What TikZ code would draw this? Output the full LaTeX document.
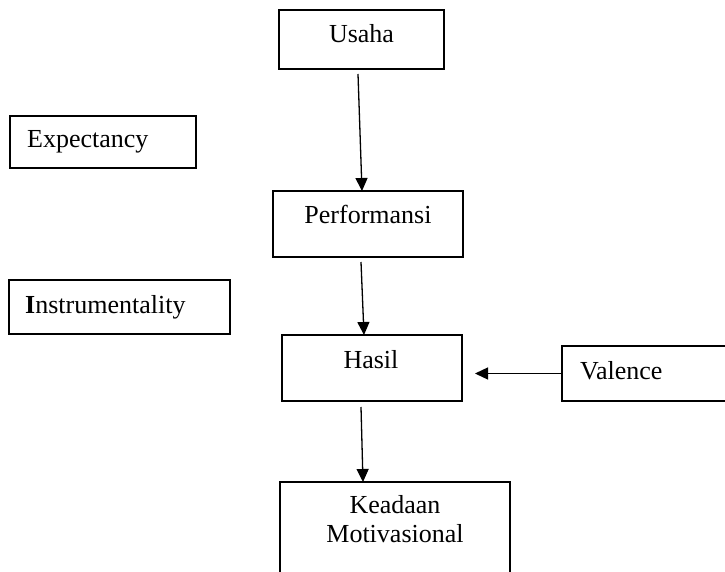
\documentclass[tikz,border=0pt]{standalone}
\usepackage{fontspec}
\setmainfont{Liberation Serif}
\usetikzlibrary{arrows.meta}

\tikzset{
  box/.style={draw=black, line width=1.4pt, rectangle, inner sep=0pt, outer sep=0pt},
  label/.style={inner sep=0pt, anchor=base, font=\fontsize{26}{30}\selectfont},
  lefttext/.style={label, anchor=base west},
  arr/.style={line width=1.3pt, -{Triangle[length=13pt,width=12pt]}}
}

\begin{document}
\begin{tikzpicture}[x=1pt,y=-1pt]
  \useasboundingbox (0,0) rectangle (725,572);
  \clip (0,0) rectangle (725,572);

  % boxes
  \node[box, minimum width=165pt, minimum height=59pt] (usaha) at (361.5,39.5) {};
  \node[box, minimum width=186pt, minimum height=52pt] (expect) at (103,142) {};
  \node[box, minimum width=190pt, minimum height=66pt] (perf) at (368,224) {};
  \node[box, minimum width=221pt, minimum height=54pt] (instr) at (119.5,307) {};
  \node[box, minimum width=180pt, minimum height=66pt] (hasil) at (372,368) {};
  \node[box, minimum width=200pt, minimum height=55pt] (valence) at (662,373.5) {};
  \node[box, minimum width=230pt, minimum height=120pt] (keadaan) at (395,542) {};

  % texts
  \node[label] (tusaha) at (361.5,43) {Usaha};
  \node[lefttext] (texpect) at (27,148) {Expectancy};
  \node[label] (tperf) at (368,223) {Performansi};
  \node[lefttext] (tinstr) at (25,313) {\textbf{I}nstrumentality};
  \node[label] (thasil) at (371,368) {Hasil};
  \node[lefttext] (tvalence) at (580,379) {Valence};
  \node[label] (tkead1) at (395,513) {Keadaan};
  \node[label] (tkead2) at (395,542) {Motivasional};

  % connectors
  \draw[arr] ([xshift=-3.5pt,yshift=-5pt]usaha.south) -- ([xshift=-6pt]perf.north);
  \draw[arr] ([xshift=-7pt,yshift=-5pt]perf.south) -- ([xshift=-8pt]hasil.north);
  \draw[arr] (valence.west) -- ([xshift=13pt]hasil.east |- valence.west);
  \draw[arr] ([xshift=-11pt,yshift=-6pt]hasil.south) -- ([xshift=-32pt]keadaan.north);
\end{tikzpicture}
\end{document}
